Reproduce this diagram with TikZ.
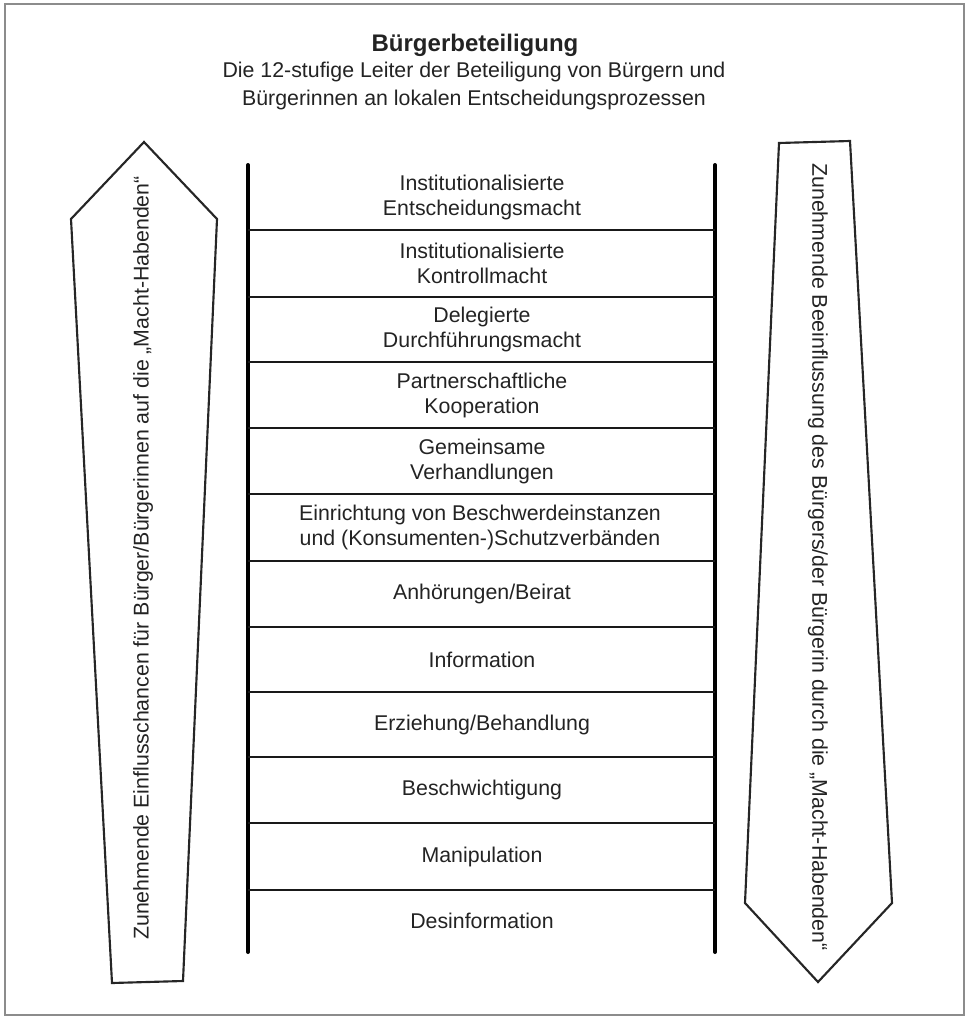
\documentclass[tikz,border=0pt]{standalone}
\usepackage{fontspec}
\setmainfont{Liberation Sans}
\definecolor{txtcol}{RGB}{35,35,35}
\definecolor{framecol}{RGB}{140,140,140}
\begin{document}
\begin{tikzpicture}[x=0.75pt,y=-0.75pt,
  txt/.style={text=txtcol, font=\fontsize{16}{18.75}\selectfont, align=center, inner sep=0pt},
  titletxt/.style={text=txtcol, font=\fontsize{18}{22}\selectfont\bfseries, inner sep=0pt},
  rail/.style={line width=3pt, draw=black, line cap=round},
  rung/.style={line width=2pt, draw=black!90},
  tipshape/.style={draw=black!85, line width=1.6pt, line join=miter},
  frame/.style={draw=framecol, line width=1.5pt}
]
\useasboundingbox (0,0) rectangle (972,1024);
\draw[frame] (5,4) rectangle (964,1015);

% title
\node[titletxt] (title) at (475,45) {Bürgerbeteiligung};
\node[txt] (sub1) at (474,72) {Die 12-stufige Leiter der Beteiligung von Bürgern und};
\node[txt] (sub2) at (474,100) {Bürgerinnen an lokalen Entscheidungsprozessen};

% ladder rails
\coordinate (railLtop) at (248,165);
\coordinate (railLbot) at (248,952);
\coordinate (railRtop) at (715,165);
\coordinate (railRbot) at (715,952);
\draw[rail] (railLtop) -- (railLbot);
\draw[rail] (railRtop) -- (railRbot);

% rungs
\foreach \y [count=\i] in {230,297,362,428,494,561,627,692,757,823,890}{
  \coordinate (rL\i) at (248,\y);
  \coordinate (rR\i) at (715,\y);
  \draw[rung] (rL\i) -- (rR\i);
}

% step labels
\node[txt] (s1) at (482,197.5) {Institutionalisierte\\Entscheidungsmacht};
\node[txt] (s2) at (482,263.5) {Institutionalisierte\\Kontrollmacht};
\node[txt] (s3) at (482,329.5) {Delegierte\\Durchführungsmacht};
\node[txt] (s4) at (482,395) {Partnerschaftliche\\Kooperation};
\node[txt] (s5) at (482,461) {Gemeinsame\\Verhandlungen};
\node[txt] (s6) at (480,527.5) {Einrichtung von Beschwerdeinstanzen\\und (Konsumenten-)Schutzverbänden};
\node[txt] (s7) at (482,594) {Anhörungen/Beirat};
\node[txt] (s8) at (482,659.5) {Information};
\node[txt] (s9) at (482,724.5) {Erziehung/Behandlung};
\node[txt] (s10) at (482,790) {Beschwichtigung};
\node[txt] (s11) at (482,856.5) {Manipulation};
\node[txt] (s12) at (482,921) {Desinformation};

% left arrow (up)
\draw[tipshape] (144,142) -- (217,219) -- (183,981) -- (112,983) -- (71,219) -- cycle;
\node[txt, rotate=90] (lefttext) at (143,558) {Zunehmende Einflusschancen für Bürger/Bürgerinnen auf die „Macht-Habenden“};

% right arrow (down)
\draw[tipshape] (779,143) -- (850,141) -- (892,903) -- (818,982) -- (745,903) -- cycle;
\node[txt, rotate=-90] (righttext) at (818,557) {Zunehmende Beeinflussung des Bürgers/der Bürgerin durch die „Macht-Habenden“};
\end{tikzpicture}
\end{document}
